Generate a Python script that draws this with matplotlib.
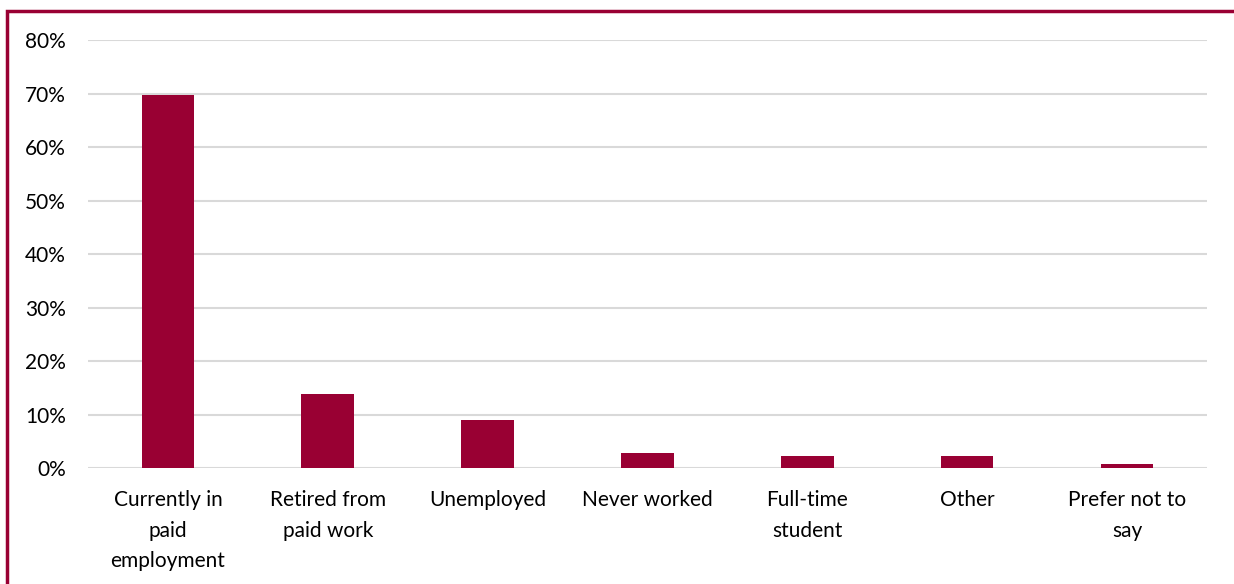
import matplotlib.pyplot as plt
from matplotlib.patches import Rectangle
from matplotlib.ticker import PercentFormatter

# Employment status of respondents
categories = ['Currently in\npaid\nemployment', 'Retired from\npaid work', 'Unemployed',
              'Never worked', 'Full-time\nstudent', 'Other', 'Prefer not to\nsay']
shares = [0.698, 0.139, 0.090, 0.029, 0.022, 0.022, 0.008]

bar_color = '#990033'

plt.rcParams['font.family'] = ['Lato', 'DejaVu Sans']

fig = plt.figure(figsize=(12.34, 5.84), dpi=100)
ax = fig.add_axes([0.0713, 0.1986, 0.9067, 0.7329])

ax.bar(range(len(categories)), shares, width=0.33, color=bar_color, zorder=3)

ax.set_ylim(0, 0.8)
ax.set_xlim(-0.5, len(categories) - 0.5)
ax.set_yticks([i / 10 for i in range(9)])
ax.yaxis.set_major_formatter(PercentFormatter(1.0, decimals=0))
ax.set_xticks(range(len(categories)))
ax.set_xticklabels(categories, fontsize=15, linespacing=1.65, va='top')
ax.tick_params(axis='y', labelsize=15, length=0, pad=16)
ax.tick_params(axis='x', length=0, pad=16)

ax.grid(axis='y', color='#d9d9d9', linewidth=1.5, zorder=0)
for side in ['left', 'right', 'top', 'bottom']:
    ax.spines[side].set_visible(False)

# frame around the chart area
fig.patches.append(Rectangle((6.5 / 1234, -0.05), 1.05, 1.05 - 10.5 / 584,
                             transform=fig.transFigure, fill=False,
                             edgecolor=bar_color, linewidth=2.5))

fig.savefig('out.png', dpi=100)
